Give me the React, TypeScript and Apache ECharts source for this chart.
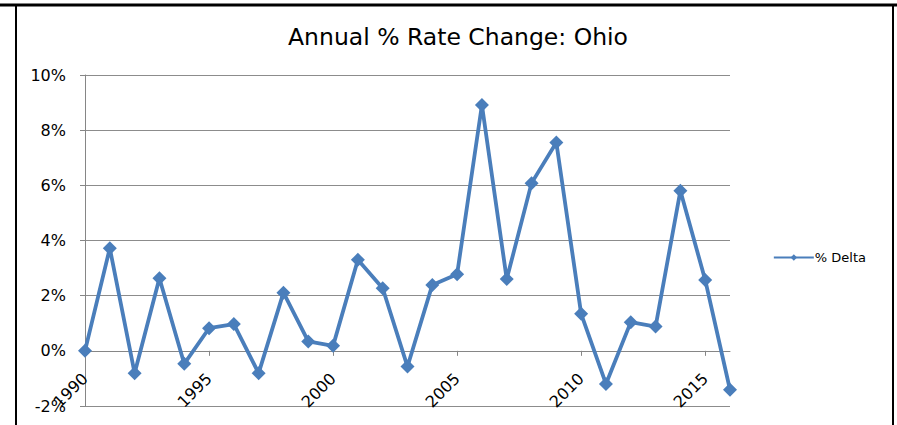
import React, { useEffect, useRef } from "react";
import * as echarts from "echarts";

const years = [1990, 1991, 1992, 1993, 1994, 1995, 1996, 1997, 1998, 1999, 2000, 2001, 2002, 2003, 2004, 2005, 2006, 2007, 2008, 2009, 2010, 2011, 2012, 2013, 2014, 2015, 2016];
const deltaPct = [0.0, 3.72, -0.81, 2.63, -0.47, 0.82, 0.97, -0.81, 2.11, 0.34, 0.18, 3.3, 2.27, -0.57, 2.39, 2.78, 8.91, 2.6, 6.08, 7.55, 1.34, -1.2, 1.04, 0.88, 5.8, 2.57, -1.41];
const seriesName = "% Delta";
const titleText = "Annual % Rate Change: Ohio";
const yMin = -2;
const yMax = 10;

export default function App() {
  const ref = useRef<HTMLDivElement>(null);
  useEffect(() => {
    if (!ref.current) return;
    const chart = echarts.init(ref.current, null, { renderer: "svg" });
    const font = "DejaVu Sans";
    const H = 425;
    const gTop = 75;
    const gBottom = 19;
    const plotH = H - gTop - gBottom;
    // place the x axis at the y = 0 level (Excel's "axis crosses at 0")
    const zeroOffset = -plotH * (0 - yMin) / (yMax - yMin);
    chart.setOption({
      animation: false,
      backgroundColor: "#ffffff",
      textStyle: { fontFamily: font },
      title: {
        text: titleText,
        left: 453,
        top: 20,
        textAlign: "center",
        textStyle: { fontFamily: font, fontSize: 23.5, fontWeight: "normal", color: "#000" },
      },
      legend: {
        right: 26,
        top: 246,
        orient: "vertical",
        itemWidth: 40,
        itemHeight: 8,
        itemGap: 2,
        textStyle: { fontFamily: font, fontSize: 13, color: "#000", padding: [0, 0, 0, -4] },
        data: [seriesName],
      },
      grid: { left: 85, right: 167, top: gTop, bottom: gBottom, containLabel: false, outerBoundsMode: "none" },
      xAxis: {
        type: "value",
        min: 1990,
        max: 2016,
        interval: 5,
        offset: zeroOffset,
        axisLine: { show: true, onZero: false, lineStyle: { color: "#868686", width: 1 } },
        axisTick: { show: true, length: 5, lineStyle: { color: "#868686" } },
        splitLine: { show: false },
        axisLabel: {
          rotate: 45,
          margin: 25,
          fontFamily: font,
          fontSize: 16,
          color: "#000",
          showMaxLabel: false,
          formatter: (v: number) => String(v),
        },
      },
      yAxis: {
        type: "value",
        min: yMin,
        max: yMax,
        interval: 2,
        axisLine: { show: true, onZero: false, lineStyle: { color: "#868686", width: 1 } },
        axisTick: { show: true, length: 5, lineStyle: { color: "#868686" } },
        splitLine: { show: true, lineStyle: { color: "#8c8c8c", width: 1 } },
        axisLabel: {
          margin: 19,
          fontFamily: font,
          fontSize: 16,
          color: "#000",
          formatter: (v: number) => v + "%",
        },
      },
      series: [
        {
          name: seriesName,
          type: "line",
          data: years.map((y, i) => [y, deltaPct[i]]),
          symbol: "diamond",
          symbolSize: 14,
          lineStyle: { color: "#4A7EBB", width: 3.8 },
          itemStyle: { color: "#4A7EBB" },
        },
      ],
      graphic: [
        { type: "line", shape: { x1: 0, y1: 5, x2: 897, y2: 5 }, style: { stroke: "#000", lineWidth: 3 }, z: 100 },
        { type: "line", shape: { x1: 16, y1: 5, x2: 16, y2: 425 }, style: { stroke: "#000", lineWidth: 2 }, z: 100 },
        { type: "line", shape: { x1: 893, y1: 5, x2: 893, y2: 425 }, style: { stroke: "#000", lineWidth: 2 }, z: 100 },
      ],
    });
    return () => chart.dispose();
  }, []);
  return <div ref={ref} style={{ position: "absolute", left: 0, top: 0, width: 897, height: 425 }} />;
}
